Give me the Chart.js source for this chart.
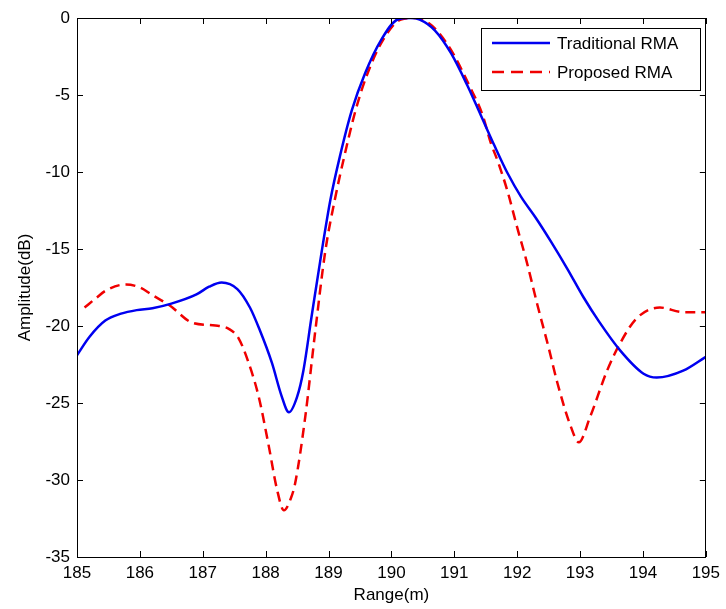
<!DOCTYPE html>
<html>
<head>
<meta charset="utf-8">
<script src="https://cdn.jsdelivr.net/npm/chart.js@4.4.1/dist/chart.umd.min.js"></script>
<style>
  body { margin: 0; background: #fff; }
</style>
</head>
<body>
<canvas id="rangeChart" width="726" height="609"></canvas>
<script>
// values
var tradRange = [185.0, 185.2, 185.45, 185.7, 185.95, 186.2, 186.5, 186.9, 187.1, 187.3, 187.55, 187.75, 187.9, 188.1, 188.25, 188.37, 188.5, 188.6, 188.73, 188.89, 189.03, 189.18, 189.37, 189.58, 189.84, 190.1, 190.3, 190.45, 190.69, 190.95, 191.21, 191.42, 191.64, 191.85, 192.06, 192.3, 192.55, 192.8, 193.05, 193.3, 193.64, 194.01, 194.22, 194.64, 195.0];
var tradAmp = [-21.9, -20.7, -19.65, -19.2, -18.97, -18.85, -18.55, -17.95, -17.45, -17.17, -17.6, -18.8, -20.2, -22.4, -24.5, -25.6, -24.6, -22.9, -19.4, -15.2, -11.8, -9.0, -6.0, -3.6, -1.4, -0.1, 0, -0.1, -0.8, -2.3, -4.4, -6.3, -8.3, -10.1, -11.6, -13.0, -14.6, -16.3, -18.1, -19.7, -21.6, -23.1, -23.35, -22.9, -22.0];

var propRange = [185.12, 185.3, 185.47, 185.78, 186.0, 186.2, 186.47, 186.84, 187.2, 187.42, 187.57, 187.73, 187.89, 188.05, 188.18, 188.29, 188.4, 188.47, 188.63, 188.79, 188.95, 189.1, 189.25, 189.43, 189.62, 189.87, 190.15, 190.35, 190.5, 190.72, 190.98, 191.24, 191.45, 191.58, 191.7, 191.85, 192.0, 192.15, 192.32, 192.5, 192.64, 192.85, 192.98, 193.16, 193.43, 193.64, 193.9, 194.27, 194.64, 195.0];
var propAmp = [-18.8, -18.2, -17.67, -17.3, -17.5, -18.0, -18.65, -19.8, -19.97, -20.2, -20.8, -22.4, -24.6, -27.8, -30.6, -31.97, -31.2, -30.2, -25.9, -20.3, -15.1, -11.8, -9.0, -6.0, -3.6, -1.4, -0.1, 0, -0.1, -0.8, -2.3, -4.4, -6.3, -8.1, -9.4, -11.3, -13.6, -15.8, -18.6, -21.4, -23.7, -26.5, -27.55, -25.9, -22.9, -21.1, -19.5, -18.8, -19.1, -19.1];

var seriesNames = ["Traditional RMA", "Proposed RMA"];
var xTickValues = [185, 186, 187, 188, 189, 190, 191, 192, 193, 194, 195];
var yTickValues = [-35, -30, -25, -20, -15, -10, -5, 0];

const FONT = "'Liberation Sans', Arial, sans-serif";

function toPoints(xs, ys) {
  return xs.map((x, i) => ({ x: x, y: ys[i] }));
}

// matlab style box, inward ticks and legend
const matlabAxes = {
  id: "matlabAxes",
  afterDraw(chart) {
    const { ctx, chartArea: a, scales } = chart;
    const x = scales.x, y = scales.y;
    ctx.save();
    ctx.strokeStyle = "#000";
    ctx.lineWidth = 1;
    ctx.strokeRect(Math.round(a.left) + 0.5, Math.round(a.top) + 0.5, Math.round(a.width) - 1, Math.round(a.height));
    ctx.beginPath();
    x.ticks.forEach(t => {
      const px = Math.round(x.getPixelForValue(t.value)) + 0.5;
      ctx.moveTo(px, a.bottom); ctx.lineTo(px, a.bottom - 6);
      ctx.moveTo(px, a.top); ctx.lineTo(px, a.top + 6);
    });
    y.ticks.forEach(t => {
      const py = Math.round(y.getPixelForValue(t.value)) + 0.5;
      ctx.moveTo(a.left, py); ctx.lineTo(a.left + 6, py);
      ctx.moveTo(a.right, py); ctx.lineTo(a.right - 6, py);
    });
    ctx.stroke();

    // legend box
    const bx = 481, by = 28, bw = 219, bh = 62;
    ctx.fillStyle = "#fff";
    ctx.fillRect(bx, by, bw, bh);
    ctx.strokeRect(bx + 0.5, by + 0.5, bw, bh);
    ctx.font = "17px " + FONT;
    ctx.textBaseline = "middle";
    chart.data.datasets.forEach((ds, i) => {
      const ly = 43 + i * 29;
      ctx.beginPath();
      ctx.strokeStyle = ds.borderColor;
      ctx.lineWidth = ds.borderWidth;
      ctx.setLineDash(ds.borderDash ? [12, 7] : []);
      ctx.moveTo(492, ly); ctx.lineTo(550, ly);
      ctx.stroke();
      ctx.setLineDash([]);
      ctx.fillStyle = "#000";
      ctx.fillText(ds.label, 557, ly + 1);
    });
    ctx.restore();
  }
};

const ctx = document.getElementById("rangeChart").getContext("2d");
new Chart(ctx, {
  type: "scatter",
  data: {
    datasets: [{
      label: seriesNames[0],
      data: toPoints(tradRange, tradAmp),
      showLine: true,
      borderColor: "#0000f0",
      borderWidth: 2.5,
      pointRadius: 0,
      cubicInterpolationMode: "monotone"
    }, {
      label: seriesNames[1],
      data: toPoints(propRange, propAmp),
      showLine: true,
      borderColor: "#f00000",
      borderWidth: 2.5,
      borderDash: [10, 6],
      pointRadius: 0,
      cubicInterpolationMode: "monotone"
    }]
  },
  options: {
    responsive: false,
    animation: false,
    devicePixelRatio: 1,
    layout: { padding: { top: 18, right: 17, left: 0, bottom: 0 } },
    plugins: { legend: { display: false }, tooltip: { enabled: false } },
    scales: {
      x: {
        type: "linear",
        min: 185,
        max: 195,
        afterBuildTicks: s => { s.ticks = xTickValues.map(v => ({ value: v })); },
        afterFit: s => { s.height = 52; },
        grid: { display: false, drawTicks: false },
        border: { display: false },
        ticks: { color: "#000", padding: 6, font: { family: FONT, size: 17 }, maxRotation: 0 },
        title: { display: true, text: "Range(m)", color: "#000", padding: { top: 3, bottom: 3 }, font: { family: FONT, size: 17 } }
      },
      y: {
        type: "linear",
        min: -35,
        max: 0,
        afterBuildTicks: s => { s.ticks = yTickValues.map(v => ({ value: v })); },
        afterFit: s => { s.width = 77; },
        grid: { display: false, drawTicks: false },
        border: { display: false },
        ticks: { color: "#000", padding: 7, font: { family: FONT, size: 17 } },
        title: { display: true, text: "Amplitude(dB)", color: "#000", padding: { top: 15, bottom: 0 }, font: { family: FONT, size: 17 } }
      }
    }
  },
  plugins: [matlabAxes]
});
</script>
</body>
</html>
